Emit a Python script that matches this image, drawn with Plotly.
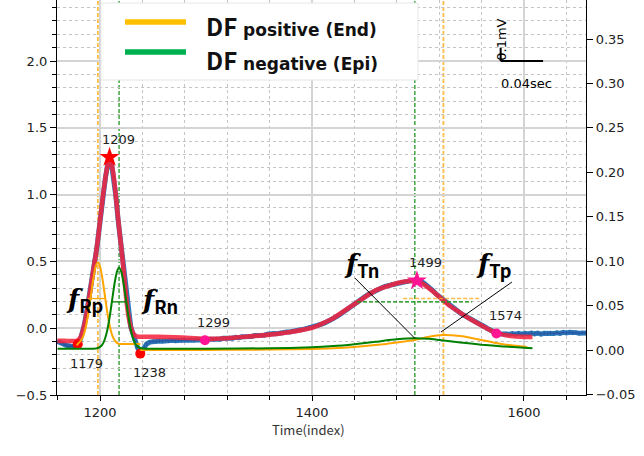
import plotly.graph_objects as go

# ---------------- measured beat (index, mV) ----------------
ecg_idx = [
    1160, 1162, 1164, 1166, 1168, 1170, 1172, 1174, 1176, 1178,
    1179, 1181, 1183, 1185, 1187, 1189, 1191, 1193, 1195, 1197,
    1199, 1201, 1203, 1205, 1207, 1209, 1211, 1213, 1215, 1217,
    1219, 1221, 1223, 1225, 1227, 1229, 1231, 1233, 1235, 1237,
    1238, 1240, 1242, 1244,
    1247, 1250, 1253, 1256, 1259, 1262, 1265, 1268, 1271, 1274,
    1277, 1280, 1283, 1286, 1289, 1292, 1295, 1298, 1301, 1304,
    1307, 1310, 1313, 1316, 1319, 1322, 1325, 1328, 1331, 1334,
    1337, 1340, 1343, 1346, 1349, 1352, 1355, 1358, 1361, 1364,
    1367, 1370, 1373, 1376, 1379, 1382, 1385, 1388, 1391, 1394,
    1397, 1400, 1403, 1406, 1409, 1412, 1415, 1418, 1421, 1424,
    1427, 1430, 1433, 1436, 1439, 1442, 1445, 1448, 1451, 1454,
    1457, 1460, 1463, 1466, 1469, 1472, 1475, 1478, 1481, 1484,
    1487, 1490, 1493, 1496, 1499,
    1502, 1505, 1508, 1511, 1514, 1517, 1520, 1523, 1526, 1529,
    1532, 1535, 1538, 1541, 1544, 1547, 1550, 1553, 1556, 1559,
    1562, 1565, 1568, 1571, 1574, 1577, 1580, 1583, 1586, 1589,
    1592, 1595, 1598, 1601, 1604, 1607, 1610, 1613, 1616, 1619,
    1622, 1625, 1628, 1631, 1634, 1637, 1640, 1643, 1646, 1649,
    1652, 1655, 1658, 1661,
]
ecg_val = [
    -0.100, -0.104, -0.112, -0.120, -0.128, -0.134, -0.131, -0.138, -0.132, -0.124,
    -0.120, -0.098, -0.050, 0.020, 0.100, 0.190, 0.290, 0.400, 0.500, 0.600,
    0.730, 0.875, 1.010, 1.120, 1.215, 1.280, 1.225, 1.130, 0.985, 0.815,
    0.680, 0.540, 0.370, 0.200, 0.090, 0.010, -0.040, -0.095, -0.145, -0.180,
    -0.190, -0.170, -0.140, -0.118,
    -0.104, -0.098, -0.101, -0.095, -0.097, -0.092, -0.096, -0.090, -0.094, -0.089,
    -0.093, -0.088, -0.091, -0.086, -0.090, -0.087, -0.089, -0.086, -0.088, -0.082,
    -0.085, -0.079, -0.082, -0.076, -0.078, -0.072, -0.075, -0.068, -0.071, -0.064,
    -0.066, -0.060, -0.062, -0.055, -0.057, -0.051, -0.052, -0.045, -0.047, -0.040,
    -0.041, -0.034, -0.035, -0.028, -0.028, -0.021, -0.020, -0.013, -0.010, -0.004,
    0.001, 0.006, 0.014, 0.020, 0.030, 0.040, 0.050, 0.060, 0.074, 0.090,
    0.106, 0.124, 0.142, 0.158, 0.176, 0.192, 0.210, 0.226, 0.242, 0.256,
    0.270, 0.281, 0.294, 0.303, 0.314, 0.320, 0.330, 0.334, 0.341, 0.344,
    0.350, 0.351, 0.356, 0.355, 0.358,
    0.352, 0.341, 0.324, 0.301, 0.282, 0.257, 0.238, 0.213, 0.194, 0.171,
    0.155, 0.137, 0.125, 0.107, 0.095, 0.077, 0.065, 0.051, 0.041, 0.027,
    0.015, 0.000, -0.013, -0.027, -0.036, -0.041, -0.044, -0.040, -0.046, -0.040,
    -0.045, -0.039, -0.044, -0.038, -0.043, -0.036, -0.042, -0.037, -0.044, -0.038,
    -0.041, -0.035, -0.040, -0.034, -0.039, -0.031, -0.036, -0.030, -0.036, -0.033,
    -0.038, -0.034, -0.037, -0.035,
]

# ---------------- fitted waveform ----------------
fit_idx = [
    1160, 1166, 1172, 1176, 1178,
    1180, 1182, 1184, 1186, 1188, 1190, 1192, 1194, 1196, 1198,
    1200, 1202, 1204, 1206, 1208, 1209,
    1210, 1212, 1214, 1216, 1218, 1220, 1222, 1224, 1226, 1228,
    1230, 1232, 1234, 1236,
    1240, 1255, 1270, 1285, 1300,
    1320, 1340, 1360, 1380, 1400, 1420, 1440, 1460, 1480,
    1490, 1499,
    1510, 1520, 1530, 1540, 1550, 1560, 1570, 1580, 1590, 1600,
    1608,
]
fit_val = [
    -0.095, -0.095, -0.096, -0.096, -0.093,
    -0.084, -0.062, -0.015, 0.055, 0.140, 0.240, 0.345, 0.450, 0.550, 0.665,
    0.800, 0.940, 1.065, 1.170, 1.250, 1.270,
    1.262, 1.185, 1.065, 0.905, 0.750, 0.610, 0.455, 0.285, 0.140, 0.045,
    -0.015, -0.045, -0.058, -0.064,
    -0.064, -0.065, -0.068, -0.073, -0.080,
    -0.075, -0.062, -0.048, -0.028, 0.003, 0.075, 0.180, 0.283, 0.337,
    0.352, 0.355,
    0.302, 0.236, 0.168, 0.115, 0.065, 0.020, -0.022, -0.048, -0.060, -0.065,
    -0.066,
]

# ---------------- DF components (right axis) ----------------
pos_idx = [
    1178, 1180, 1182, 1184, 1186, 1188, 1190, 1192, 1194, 1196, 1198,
    1200, 1202, 1204, 1206, 1208, 1210, 1212, 1214, 1216, 1218, 1222, 1238,
    None,
    1238, 1280, 1320, 1360, 1400, 1430, 1450, 1470, 1485, 1497,
    1508, 1516, 1524, 1532, 1542, 1558, 1572, 1586, 1603,
]
pos_val = [
    0.0053, 0.0081, 0.0105, 0.0150, 0.0229, 0.0343, 0.0493, 0.0665, 0.0825, 0.0943, 0.0985,
    0.0943, 0.0825, 0.0665, 0.0493, 0.0343, 0.0229, 0.0150, 0.0105, 0.0081, 0.0068, 0.0068, 0.0068,
    None,
    0.0000, 0.0000, 0.0002, 0.0005, 0.0012, 0.0027, 0.0044, 0.0068, 0.0092, 0.0113,
    0.0143, 0.0161, 0.0170, 0.0167, 0.0154, 0.0116, 0.0083, 0.0056, 0.0035,
]
neg_idx = [
    1160, 1190, 1196, 1198, 1200, 1202, 1204, 1206, 1208, 1210,
    1212, 1214, 1216, 1218, 1220, 1222, 1224, 1226, 1228, 1230,
    1232, 1234, 1236, 1238, 1240, 1250, 1300, 1360, 1400, 1420,
    1440, 1460, 1480, 1497, 1510, 1520, 1540, 1560, 1580, 1600,
    1608,
]
neg_val = [
    0.0015, 0.0015, 0.0018, 0.0023, 0.0035, 0.0059, 0.0104, 0.0180, 0.0293, 0.0442,
    0.0609, 0.0768, 0.0883, 0.0925, 0.0883, 0.0768, 0.0609, 0.0442, 0.0293, 0.0180,
    0.0104, 0.0059, 0.0035, 0.0023, 0.0018, 0.0015, 0.0015, 0.0020, 0.0030, 0.0044,
    0.0066, 0.0093, 0.0120, 0.0132, 0.0126, 0.0113, 0.0086, 0.0060, 0.0041, 0.0026,
    0.0020,
]

# component centres and half-height widths
pos_centres = [1198, 1524]
neg_centres = [1218, 1497]
pos_half_r = [1188.6, 1204.6]
neg_half_r = [1211.0, 1225.2]
pos_half_t = [1486.0, 1558.0]
neg_half_t = [1442.5, 1551.0]
pos_half_level = 0.222
neg_half_level = 0.197

# fiducial points
peak_idx = [1209, 1499]
peak_val = [1.28, 0.355]
qrs_idx = [1179, 1238]
qrs_val = [-0.12, -0.19]
t_idx = [1299, 1574]
t_val = [-0.09, -0.04]

# pointer lines for the T components: (label end) -> (curve point), right-axis units
tn_pointer = [(1440.5, 0.081), (1497.0, 0.0132)]
tp_pointer = [(1588.6, 0.0765), (1521.7, 0.0203)]

# scale bar (index, mV)
bar_origin = (1578, 2.0)
bar_len_x = 40
bar_len_y = 0.1

X_RANGE = [1159.43, 1658.5]
Y_RANGE = [-0.5, 2.457]
Y2_RANGE = [-0.0506, 0.3939]

ORANGE = "#FFA500"
GREEN = "#008000"
ORANGE_DASH = "rgba(255,170,30,0.8)"
GREEN_DASH = "rgba(30,150,30,0.8)"
PINK = "#FF1493"
RED = "#FF0000"
TICK_FONT = dict(family="DejaVu Sans", size=13, color="#222222")
JP = "Noto Sans CJK JP"

fig = go.Figure()

# measured beat: thick blue line with small sample crosses
fig.add_trace(go.Scatter(x=ecg_idx, y=ecg_val, mode="lines+markers",
                         line=dict(color="#2a7cbc", width=5),
                         marker=dict(symbol="cross-thin", size=3,
                                     line=dict(width=0.8, color="#2c4f9c"))))
# fitted waveform on top, slightly translucent
fig.add_trace(go.Scatter(x=fit_idx, y=fit_val, mode="lines",
                         line=dict(color="rgba(245,35,60,0.86)", width=4.6,
                                   shape="spline", smoothing=0.5)))
fig.add_trace(go.Scatter(x=pos_idx, y=pos_val, yaxis="y2", mode="lines",
                         connectgaps=False,
                         line=dict(color=ORANGE, width=2, shape="spline", smoothing=0.6)))
fig.add_trace(go.Scatter(x=neg_idx, y=neg_val, yaxis="y2", mode="lines",
                         line=dict(color=GREEN, width=2, shape="spline", smoothing=0.6)))

fig.add_trace(go.Scatter(x=qrs_idx, y=qrs_val, mode="markers",
                         marker=dict(symbol="circle", size=10, color=RED)))
fig.add_trace(go.Scatter(x=t_idx, y=t_val, mode="markers",
                         marker=dict(symbol="circle", size=10, color=PINK)))
fig.add_trace(go.Scatter(x=peak_idx, y=peak_val, mode="markers",
                         marker=dict(symbol="star", size=15, color=[RED, PINK])))

shapes = []
# component centre lines
for c in pos_centres:
    shapes.append(dict(type="line", xref="x", yref="paper", x0=c, x1=c, y0=0, y1=1,
                       line=dict(color=ORANGE_DASH, width=1.8, dash="4px,2px"), layer="below"))
for c in neg_centres:
    shapes.append(dict(type="line", xref="x", yref="paper", x0=c, x1=c, y0=0, y1=1,
                       line=dict(color=GREEN_DASH, width=1.6, dash="4px,2px"), layer="below"))
# half-height widths
shapes.append(dict(type="line", xref="x", yref="y", x0=pos_half_r[0], x1=pos_half_r[1],
                   y0=pos_half_level, y1=pos_half_level, line=dict(color=ORANGE, width=1.3)))
shapes.append(dict(type="line", xref="x", yref="y", x0=neg_half_r[0], x1=neg_half_r[1],
                   y0=neg_half_level, y1=neg_half_level, line=dict(color=GREEN, width=1.3)))
shapes.append(dict(type="line", xref="x", yref="y", x0=neg_half_t[0], x1=neg_half_t[1],
                   y0=neg_half_level, y1=neg_half_level,
                   line=dict(color=GREEN_DASH, width=1.6, dash="4px,2px")))
shapes.append(dict(type="line", xref="x", yref="y", x0=pos_half_t[0], x1=pos_half_t[1],
                   y0=pos_half_level, y1=pos_half_level,
                   line=dict(color=ORANGE_DASH, width=1.6, dash="4px,2px")))
# pointers
for p in (tn_pointer, tp_pointer):
    shapes.append(dict(type="line", xref="x", yref="y2", x0=p[0][0], y0=p[0][1],
                       x1=p[1][0], y1=p[1][1], line=dict(color="black", width=1)))
# scale bar
shapes.append(dict(type="line", xref="x", yref="y", x0=bar_origin[0], x1=bar_origin[0] + bar_len_x,
                   y0=bar_origin[1], y1=bar_origin[1], line=dict(color="black", width=2)))
shapes.append(dict(type="line", xref="x", yref="y", x0=bar_origin[0], x1=bar_origin[0],
                   y0=bar_origin[1], y1=bar_origin[1] + bar_len_y, line=dict(color="black", width=2)))

# legend panel
PL, PR, PT, PB = 57, 586, 0, 395
def px(xp):
    return (xp - PL) / (PR - PL)
def py(yp):
    return (PB - yp) / (PB - PT)

shapes.append(dict(type="rect", xref="paper", yref="paper", x0=px(101), x1=px(418),
                   y0=py(80), y1=py(3), fillcolor="white", line=dict(color="#e6e6e6", width=1),
                   layer="above"))
shapes.append(dict(type="line", xref="paper", yref="paper", x0=px(125), x1=px(186),
                   y0=py(22), y1=py(22), line=dict(color="#FFC000", width=5.5), layer="above"))
shapes.append(dict(type="line", xref="paper", yref="paper", x0=px(125), x1=px(186),
                   y0=py(52), y1=py(52), line=dict(color="#00B050", width=5.5), layer="above"))

annotations = []
legend_rows = [("DF", "positive (End)", 25), ("DF", "negative (Epi)", 59)]
for big, small, yc in legend_rows:
    annotations.append(dict(
        xref="paper", yref="paper", x=px(204), y=py(yc), xanchor="left", yanchor="middle",
        showarrow=False,
        text=(f"<b><span style='font-family:{JP};font-size:24px'>{big}</span>"
              f" {small}</b>"),
        font=dict(family="DejaVu Sans", size=17, color="#111111")))

# fiducial labels
for i, v in zip(peak_idx + t_idx, peak_val + t_val):
    annotations.append(dict(x=i, y=v, xref="x", yref="y", text=str(i), showarrow=False,
                            xshift=9, yshift=18, font=TICK_FONT))
for i, v in zip(qrs_idx, qrs_val):
    annotations.append(dict(x=i, y=v, xref="x", yref="y", text=str(i), showarrow=False,
                            xshift=9, yshift=-19, font=TICK_FONT))

# component names
def fname(sub):
    return ("<span style='font-family:DejaVu Serif'><b><i>f</i></b></span>"
            f"<sub><b>{sub}</b></sub>")

for sub, xi, yv in [("Rp", 1166.5, 0.205), ("Rn", 1236.5, 0.198),
                    ("Tn", 1428.0, 0.468), ("Tp", 1552.5, 0.468)]:
    annotations.append(dict(x=xi, y=yv, xref="x", yref="y", text=fname(sub), showarrow=False,
                            xanchor="left", yanchor="middle",
                            font=dict(family=JP, size=26, color="black")))

# scale bar labels
annotations.append(dict(x=bar_origin[0], y=bar_origin[1], xref="x", yref="y", text="0.1mV",
                        showarrow=False, textangle=-90, xanchor="center", yanchor="bottom",
                        xshift=0, yshift=-2, font=dict(family="DejaVu Sans", size=13, color="black")))
annotations.append(dict(x=bar_origin[0], y=bar_origin[1], xref="x", yref="y", text="0.04sec",
                        showarrow=False, xanchor="left", yanchor="middle", xshift=-2, yshift=-22,
                        font=dict(family="DejaVu Sans", size=13, color="black")))

# x-axis title
annotations.append(dict(xref="paper", yref="paper", x=px(308), y=py(429), text="Time(index)",
                        showarrow=False, xanchor="center", yanchor="middle",
                        font=dict(family=JP, size=13, color="#333333")))

fig.update_layout(
    width=644, height=456,
    margin=dict(l=PL, r=644 - PR, t=PT, b=456 - PB, pad=0),
    paper_bgcolor="white", plot_bgcolor="white",
    showlegend=False, hovermode=False,
    shapes=shapes, annotations=annotations,
    xaxis=dict(
        range=X_RANGE, tick0=1200, dtick=200, ticks="outside", ticklen=5, tickwidth=1,
        tickcolor="black", showline=True, linecolor="black", linewidth=1.2, zeroline=False,
        showgrid=True, gridcolor="#d4d4d4", gridwidth=1.5, tickfont=TICK_FONT,
        minor=dict(tick0=1200, dtick=40, ticks="outside", ticklen=4, tickcolor="black",
                   showgrid=True, gridcolor="#c4c4c4", griddash="dot", gridwidth=1),
    ),
    yaxis=dict(
        range=Y_RANGE, tick0=0, dtick=0.5, tickformat=".1f", ticks="outside", ticklen=6,
        tickcolor="black", showline=True, linecolor="black", linewidth=1.2, zeroline=False,
        showgrid=True, gridcolor="#d4d4d4", gridwidth=1.5, tickfont=TICK_FONT,
        minor=dict(tick0=0, dtick=0.1, ticks="outside", ticklen=3.5, tickcolor="black",
                   showgrid=True, gridcolor="#c4c4c4", griddash="dot", gridwidth=1),
    ),
    yaxis2=dict(
        range=Y2_RANGE, overlaying="y", side="right", tick0=0, dtick=0.05, tickformat=".2f",
        ticks="outside", ticklen=6, tickcolor="black", showline=True, linecolor="black",
        linewidth=1.2, zeroline=False, showgrid=False, tickfont=TICK_FONT,
    ),
)

fig.write_html("out.html")
